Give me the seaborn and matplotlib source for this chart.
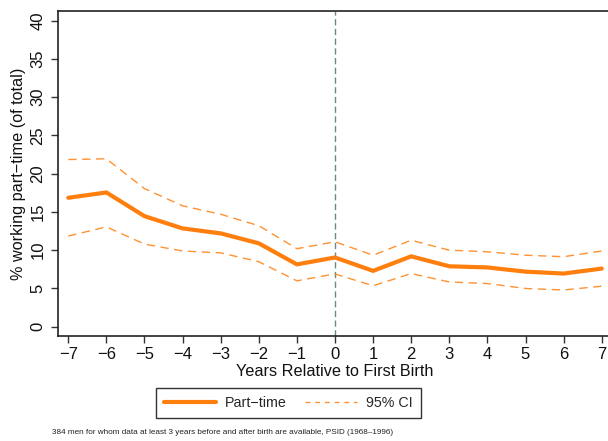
import matplotlib
matplotlib.use("Agg")
import matplotlib.pyplot as plt
from matplotlib.lines import Line2D
import seaborn as sns
import pandas as pd

# Event-time estimates: share of men working part-time around first birth
years = [-7, -6, -5, -4, -3, -2, -1, 0, 1, 2, 3, 4, 5, 6, 7]
part_time = [16.85, 17.55, 14.45, 12.85, 12.2, 10.9, 8.15, 9.05, 7.3, 9.2, 7.9, 7.75, 7.2, 6.95, 7.6]
ci_upper = [21.85, 21.95, 18.05, 15.8, 14.7, 13.2, 10.2, 11.1, 9.35, 11.3, 10.0, 9.8, 9.35, 9.15, 9.9]
ci_lower = [11.85, 13.05, 10.8, 9.9, 9.65, 8.5, 6.0, 6.9, 5.35, 6.95, 5.85, 5.65, 5.0, 4.8, 5.3]

y_ticks = [0, 5, 10, 15, 20, 25, 30, 35, 40]
x_ticks = years

df = pd.DataFrame({"year": years, "pt": part_time, "hi": ci_upper, "lo": ci_lower})

sns.set_style("white")
plt.rcParams["font.family"] = ["Liberation Sans", "DejaVu Sans"]

orange = "#ff7f0e"
fig = plt.figure(figsize=(6.08, 4.41), dpi=100)
ax = fig.add_axes([58 / 608, 105 / 441, 554 / 608, 325.3 / 441])

sns.lineplot(data=df, x="year", y="pt", ax=ax, color=orange, lw=3.0, legend=False)
sns.lineplot(data=df, x="year", y="hi", ax=ax, color=orange, lw=1.0, legend=False)
sns.lineplot(data=df, x="year", y="lo", ax=ax, color=orange, lw=1.0, legend=False)
for ln in ax.lines[1:]:
    ln.set_dashes([6, 4])
    ln.set_alpha(0.85)

ax.axvline(0, color="#6a8a80", lw=1.0, dashes=[4.5, 2.5], zorder=0)

ax.set_xlim(-7.27, 7.27)
ax.set_ylim(-1.21, 41.3)
ax.set_xticks(x_ticks)
ax.set_yticks(y_ticks)
ax.set_xticklabels([f"{v}".replace("-", "\u2212") for v in x_ticks], fontsize=12)
ax.set_yticklabels([str(v) for v in y_ticks], fontsize=12, rotation=90, va="center")
ax.tick_params(axis="both", direction="out", length=5, width=1, color="#333333",
               labelcolor="#111111", left=True, bottom=True, pad=3)
ax.tick_params(axis="y", pad=4)
ax.set_xlabel("Years Relative to First Birth", fontsize=11.7, labelpad=1, color="#111111")
ax.set_ylabel("% working part\u2212time (of total)", fontsize=11.7, labelpad=3, color="#111111")
for side in ["left", "bottom", "top", "right"]:
    ax.spines[side].set_visible(True)
    ax.spines[side].set_color("#222222")
    ax.spines[side].set_linewidth(1.2)

handles = [Line2D([], [], color=orange, lw=3.0),
           Line2D([], [], color=orange, lw=1.0, dashes=[3.5, 3.5], alpha=0.85)]
leg = fig.legend(handles, ["Part\u2212time", "95% CI"], ncol=2,
                 loc="center", bbox_to_anchor=(288.5 / 608, 1 - 403 / 441),
                 fontsize=10.3, frameon=True, fancybox=False, edgecolor="black",
                 handlelength=3.6, handletextpad=0.65, columnspacing=1.3,
                 borderpad=0.55, borderaxespad=0)
leg.get_frame().set_linewidth(1.0)

fig.text(52 / 608, 1 - 433 / 441,
         "384 men for whom data at least 3 years before and after birth are available, PSID (1968\u20131996)",
         fontsize=5.9, va="center", ha="left", color="#222222")

fig.savefig("out.png", dpi=100)
